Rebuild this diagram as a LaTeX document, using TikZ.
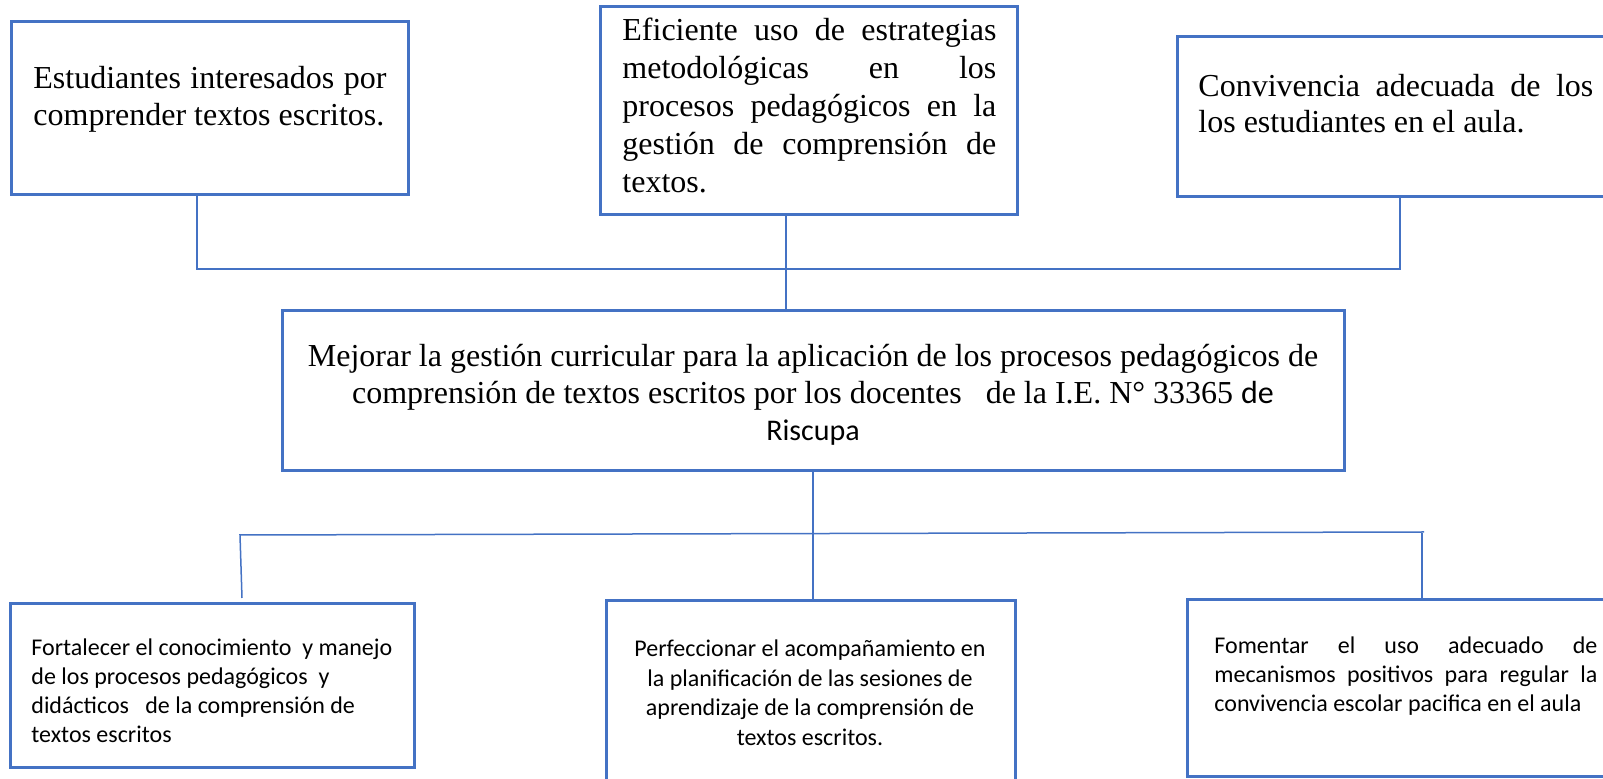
\documentclass[tikz,border=0pt]{standalone}
\usepackage{fontspec}
\setmainfont{Liberation Serif}
\newfontfamily\calfont{Carlito}
\usetikzlibrary{fit}
\definecolor{wblue}{HTML}{4472C4}
\newcommand\jl[1]{\makebox[\linewidth][s]{#1}\par}
\begin{document}
\begin{tikzpicture}[x=0.5pt,y=-0.5pt,
 boxn/.style={draw=wblue, line width=1.5pt, inner sep=0pt},
 conn/.style={draw=wblue, line width=0.75pt},
 txt/.style={inner sep=0pt, anchor=base west},
 ctxt/.style={inner sep=0pt, anchor=base}]
\fill[white] (0,0) rectangle (1603,779);
\useasboundingbox (0,0) rectangle (1603,779);
% boxes
\node[boxn, fit={(11,22)(408,195)}] (b1) {};
\node[boxn, fit={(600,7)(1017,215)}] (b2) {};
\node[boxn, fit={(1177,37)(1625,197)}] (b3) {};
\node[boxn, fit={(282,311)(1344,471)}] (m) {};
\node[boxn, fit={(10,604)(414,768)}] (b4) {};
\node[boxn, fit={(606,601)(1015,795)}] (b5) {};
\node[boxn, fit={(1187,600)(1625,777)}] (b6) {};
% texts
\node[txt] (t1) at (33,89) {\parbox[t]{176.5pt}{\fontsize{16}{18.4}\selectfont
 \jl{Estudiantes interesados por}comprender textos escritos.}};
\node[txt] (t2) at (622,41) {\parbox[t]{187pt}{\fontsize{16}{18.9}\selectfont
 \jl{Eficiente uso de estrategias}\jl{metodológicas en los}\jl{procesos pedagógicos en la}\jl{gestión de comprensión de}textos.}};
\node[txt] (t3) at (1198,97) {\parbox[t]{197.5pt}{\fontsize{16}{17.6}\selectfont
 \jl{Convivencia adecuada de los}los estudiantes en el aula.}};
\node[ctxt] (tm) at (813,367) {\parbox[t]{530pt}{\centering\fontsize{16}{18.4}\selectfont
 Mejorar la gestión curricular para la aplicación de los procesos pedagógicos de\\
 comprensión de textos escritos por los docentes\ \ \ de la I.E. N° 33365 {\calfont de}\\
 {\calfont\fontsize{15}{18.4}\selectfont Riscupa}}};
\node[txt] (t4) at (31,656) {\parbox[t]{200pt}{\raggedright\calfont\fontsize{12}{14.4}\selectfont
 Fortalecer el conocimiento\ \ y manejo\\ de los procesos pedagógicos\ \ y\\ didácticos\ \ \ de la comprensión de\\ textos escritos}};
\node[ctxt] (t5) at (810,657) {\parbox[t]{200pt}{\centering\calfont\fontsize{12}{14.7}\selectfont
 Perfeccionar el acompañamiento en\\ la planificación de las sesiones de\\ aprendizaje de la comprensión de\\ textos escritos.}};
\node[txt] (t6) at (1214,654) {\parbox[t]{191.5pt}{\calfont\fontsize{12}{14.4}\selectfont
 \jl{Fomentar el uso adecuado de}\jl{mecanismos positivos para regular la}convivencia escolar pacifica en el aula}};
% top connectors
\coordinate (j1) at (197,269);
\coordinate (j3) at (1400,269);
\coordinate (j2) at (786,0);
\draw[conn] (b1.south -| j1) -- (j1) -- (j3) -- (b3.south -| j3);
\draw[conn] (b2.south -| j2) -- (m.north -| j2);
% bottom connectors
\coordinate (k1) at (240,535);
\coordinate (k1e) at (242,598);
\coordinate (k3) at (1424,532);
\coordinate (k3d) at (1422,533);
\draw[conn] (k1e) -- (k1) -- (k3);
\draw[conn] (m.south) -- (m.south |- b5.north);
\draw[conn] (k3d) -- (k3d |- b6.north);
\end{tikzpicture}
\end{document}
